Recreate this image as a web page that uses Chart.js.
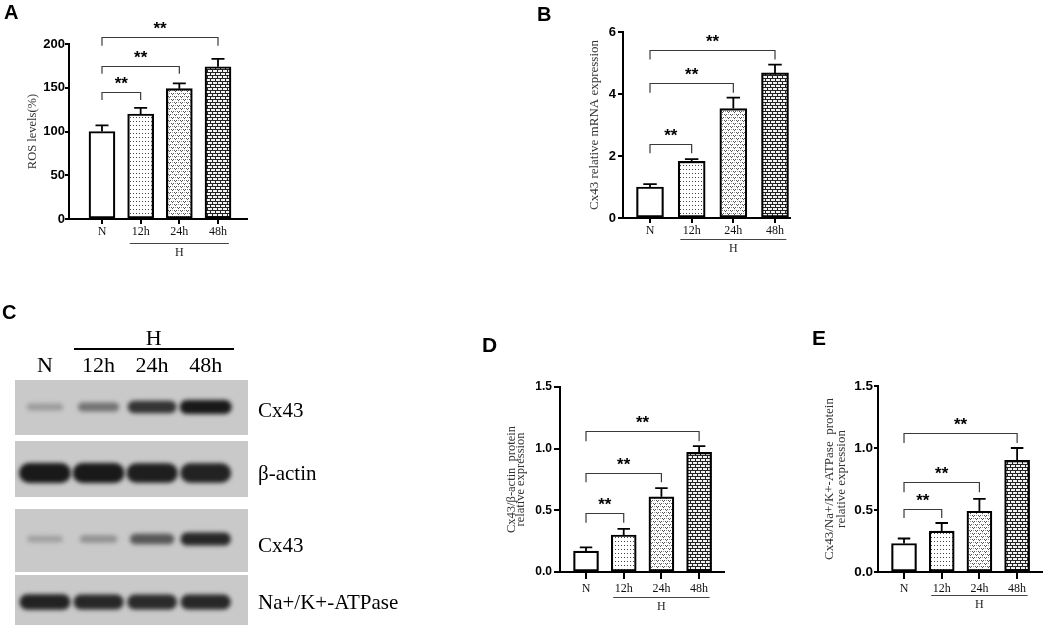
<!DOCTYPE html>
<html>
<head>
<meta charset="utf-8">
<title>ROS and Cx43 expression under hypoxia</title>
<script src="https://cdn.jsdelivr.net/npm/chart.js@4.4.1/dist/chart.umd.min.js"></script>
<style>
  body { margin: 0; background: #fff; }
  #fig { position: relative; width: 1045px; height: 628px; overflow: hidden; font-family: "Liberation Serif", "Times New Roman", serif; color: #000; }
  #fig canvas { position: absolute; }
  .tag { position: absolute; font: bold 20px "Liberation Sans", Arial, sans-serif; line-height: 1; }
  .lane { position: absolute; font-size: 22px; line-height: 1; transform: translate(-50%, -50%); white-space: nowrap; }
  .row-name { position: absolute; left: 258px; font-size: 21px; line-height: 1; transform: translateY(-50%); white-space: nowrap; }
  #hLine { position: absolute; height: 2px; background: #000; }
</style>
</head>
<body>
<div id="fig">
  <canvas id="chartA" width="260" height="268" style="left:0; top:0"></canvas>
  <canvas id="chartB" width="275" height="268" style="left:520px; top:0"></canvas>
  <canvas id="blot" width="260" height="253" style="left:0; top:375px"></canvas>
  <canvas id="chartD" width="260" height="300" style="left:470px; top:320px"></canvas>
  <canvas id="chartE" width="250" height="300" style="left:795px; top:320px"></canvas>

  <div class="tag" style="left:4px; top:2px">A</div>
  <div class="tag" style="left:537px; top:4px">B</div>
  <div class="tag" style="left:2px; top:302px">C</div>
  <div class="tag" style="left:482px; top:334px; font-size:21px">D</div>
  <div class="tag" style="left:812px; top:327px; font-size:21px">E</div>

  <div id="laneHeader"></div>
  <div class="row-name" style="top:410px">Cx43</div>
  <div class="row-name" style="top:473px">β-actin</div>
  <div class="row-name" style="top:545px">Cx43</div>
  <div class="row-name" style="top:602px">Na+/K+-ATPase</div>
</div>

<script>
// Groups (x categories)
const groups = ["N", "12h", "24h", "48h"];

// A: ROS levels (%)
const rosMean = [100, 120, 149, 174];
const rosSd = [7, 7, 6, 9];
const rosTicks = [0, 50, 100, 150, 200];

// B: Cx43 relative mRNA expression
const mrnaMean = [1.0, 1.83, 3.53, 4.68];
const mrnaSd = [0.09, 0.07, 0.35, 0.27];
const mrnaTicks = [0, 2, 4, 6];

// D: Cx43/β-actin protein
const actinRatioMean = [0.17, 0.3, 0.61, 0.97];
const actinRatioSd = [0.03, 0.05, 0.07, 0.05];

// E: Cx43/Na+/K+-ATPase protein
const atpaseRatioMean = [0.23, 0.33, 0.49, 0.9];
const atpaseRatioSd = [0.04, 0.065, 0.1, 0.1];

const proteinTicks = [0, 0.5, 1.0, 1.5];

// C: western blot band intensity (0 = none, 1 = saturated)
const cx43BandTop = [0.28, 0.5, 0.85, 1.0];
const actinBand = [1.0, 1.0, 0.97, 0.95];
const cx43BandLow = [0.25, 0.33, 0.65, 0.92];
const atpaseBand = [0.95, 0.92, 0.9, 0.92];

const SANS = "'Liberation Sans', Arial, sans-serif";
const SERIF = "'Liberation Serif', 'Times New Roman', serif";

Chart.defaults.font.family = SERIF;
Chart.defaults.color = "#000";

// Bar fills
function makePattern(kind) {
  const c = document.createElement("canvas");
  const g = c.getContext("2d");
  if (kind === "dots") {
    c.width = 3; c.height = 4;
    g.fillStyle = "#fff"; g.fillRect(0, 0, 3, 4);
    g.fillStyle = "#444"; g.fillRect(1, 1, 1, 1);
  } else if (kind === "waves") {
    // small "v" marks in staggered rows
    c.width = 6; c.height = 6;
    g.fillStyle = "#fff"; g.fillRect(0, 0, 6, 6);
    g.fillStyle = "#555";
    g.fillRect(0, 0, 1, 1); g.fillRect(2, 0, 1, 1); g.fillRect(1, 1, 1, 1);
    g.fillRect(3, 3, 1, 1); g.fillRect(5, 3, 1, 1); g.fillRect(4, 4, 1, 1);
    g.fillStyle = "#999";
    g.fillRect(4, 0, 1, 1); g.fillRect(1, 3, 1, 1);
  } else {
    c.width = 10; c.height = 6;
    g.fillStyle = "#f2f2f2"; g.fillRect(0, 0, 10, 6);
    g.fillStyle = "#222";
    g.fillRect(0, 0, 10, 1); g.fillRect(0, 3, 10, 1);
    g.fillRect(0, 1, 1, 2); g.fillRect(5, 1, 1, 2);
    g.fillRect(2, 4, 1, 2); g.fillRect(7, 4, 1, 2);
  }
  return g.createPattern(c, "repeat");
}
const barFills = ["#fff", makePattern("dots"), makePattern("waves"), makePattern("bricks")];

// Error bars, significance brackets and the "H" underline
const sigMarks = {
  id: "sigMarks",
  afterDatasetsDraw(chart, args, opts) {
    const { ctx, chartArea } = chart;
    const xs = chart.scales.x;
    const ys = chart.scales.y;
    const bars = chart.getDatasetMeta(0).data;
    ctx.save();

    ctx.strokeStyle = "#000";
    ctx.lineWidth = 1.8;
    bars.forEach((bar, i) => {
      const top = ys.getPixelForValue(opts.mean[i] + opts.sd[i]);
      const cap = bar.width / 4;
      ctx.beginPath();
      ctx.moveTo(bar.x, bar.y);
      ctx.lineTo(bar.x, top);
      ctx.moveTo(bar.x - cap, top);
      ctx.lineTo(bar.x + cap, top);
      ctx.stroke();
    });

    ctx.strokeStyle = "#3a3a3a";
    ctx.lineWidth = 1.2;
    ctx.fillStyle = "#000";
    ctx.font = "bold 17px " + SANS;
    ctx.textAlign = "center";
    ctx.textBaseline = "middle";
    opts.brackets.forEach(([to, top, foot]) => {
      const x0 = xs.getPixelForValue(0);
      const x1 = xs.getPixelForValue(to);
      const yt = Math.round(ys.getPixelForValue(top)) + 0.5;
      const yf = ys.getPixelForValue(foot);
      ctx.beginPath();
      ctx.moveTo(x0, yf);
      ctx.lineTo(x0, yt);
      ctx.lineTo(x1, yt);
      ctx.lineTo(x1, yf);
      ctx.stroke();
      ctx.fillText("**", (x0 + x1) / 2, yt - 8);
    });

    const half = bars[0].width * 0.42;
    const hx0 = xs.getPixelForValue(1) - half;
    const hx1 = xs.getPixelForValue(3) + half;
    const hy = Math.round(chartArea.bottom + opts.underline) + 0.5;
    ctx.strokeStyle = "#444";
    ctx.lineWidth = 1;
    ctx.beginPath();
    ctx.moveTo(hx0, hy);
    ctx.lineTo(hx1, hy);
    ctx.stroke();
    ctx.font = "12px " + SERIF;
    ctx.fillStyle = "#222";
    ctx.fillText("H", (hx0 + hx1) / 2, hy + 9);
    ctx.restore();
  },
};

function barChart(id, o) {
  return new Chart(document.getElementById(id), {
    type: "bar",
    data: {
      datasets: [
        {
          data: o.mean.map((v, i) => ({ x: i, y: v })),
          backgroundColor: barFills,
          borderColor: "#000",
          borderWidth: 2.2,
          borderSkipped: false,
          barThickness: o.barWidth,
        },
      ],
    },
    options: {
      responsive: false,
      animation: false,
      layout: { padding: o.padding },
      plugins: {
        legend: { display: false },
        tooltip: { enabled: false },
        sigMarks: { mean: o.mean, sd: o.sd, brackets: o.brackets, underline: o.underline },
      },
      scales: {
        x: {
          type: "linear",
          min: o.xMin,
          max: o.xMax,
          offset: false,
          afterBuildTicks: (s) => {
            s.ticks = groups.map((g, i) => ({ value: i }));
          },
          afterFit: (s) => {
            s.height = 25;
          },
          grid: { drawOnChartArea: false, offset: false, tickLength: o.xTick, color: "#000", lineWidth: 2 },
          border: { color: "#000", width: 2 },
          ticks: {
            autoSkip: false,
            maxRotation: 0,
            padding: o.xPad,
            color: "#111",
            font: { family: SERIF, size: 12 },
            callback: (v) => groups[v],
          },
        },
        y: {
          type: "linear",
          min: o.yTicks[0],
          max: o.yTicks[o.yTicks.length - 1],
          afterBuildTicks: (s) => {
            s.ticks = o.yTicks.map((v) => ({ value: v }));
          },
          afterFit: (s) => {
            s.width = o.yWidth;
          },
          grid: { drawOnChartArea: false, tickLength: o.yTick, color: "#000", lineWidth: 2 },
          border: { color: "#000", width: 2 },
          ticks: {
            padding: o.yPad,
            color: "#000",
            font: { family: SANS, size: o.tickSize, weight: "bold" },
            callback: o.yFormat,
          },
          title: {
            display: true,
            text: o.title,
            color: "#333",
            font: o.titleFont,
            padding: { top: o.titlePad, bottom: 0 },
          },
        },
      },
    },
    plugins: [sigMarks],
  });
}

// Western blot panel (drawn on lane scale)
const blotRows = [
  { from: 0, to: 55, mid: 27, thick: 14, band: cx43BandTop },
  { from: 61, to: 117, mid: 93, thick: 20, band: actinBand },
  { from: 129, to: 192, mid: 159, thick: 14, band: cx43BandLow },
  { from: 195, to: 245, mid: 222, thick: 16, band: atpaseBand },
];

const blotDraw = {
  id: "blotDraw",
  beforeDraw(chart) {
    const { ctx, chartArea: a } = chart;
    const xs = chart.scales.x;
    const ys = chart.scales.y;
    blotRows.forEach((row) => {
      const top = ys.getPixelForValue(row.from);
      const bottom = ys.getPixelForValue(row.to);
      ctx.save();
      ctx.fillStyle = "#c9c9c9";
      ctx.fillRect(a.left, top, a.right - a.left, bottom - top);
      ctx.beginPath();
      ctx.rect(a.left, top, a.right - a.left, bottom - top);
      ctx.clip();
      ctx.filter = "blur(2px)";
      row.band.forEach((v, i) => {
        const cx = xs.getPixelForValue(i);
        const cy = ys.getPixelForValue(row.mid);
        const w = 30 + 22 * v;
        const h = row.thick * (0.3 + 0.7 * v);
        const g = Math.round(205 - 180 * v);
        ctx.fillStyle = `rgb(${g},${g},${g})`;
        ctx.beginPath();
        ctx.roundRect(cx - w / 2, cy - h / 2, w, h, h / 2);
        ctx.fill();
      });
      ctx.restore();
    });
  },
};

function blotChart() {
  const chart = new Chart(document.getElementById("blot"), {
    type: "scatter",
    data: { datasets: [] },
    options: {
      responsive: false,
      animation: false,
      layout: { padding: { left: 15, right: 12, top: 5, bottom: 3 } },
      plugins: { legend: { display: false }, tooltip: { enabled: false } },
      scales: {
        x: { type: "linear", min: -0.56, max: 3.79, display: false },
        y: { type: "linear", min: 0, max: 245, reverse: true, display: false },
      },
    },
    plugins: [blotDraw],
  });

  // Lane header: N, 12h, 24h, 48h with the H bar over the hypoxia lanes
  const xs = chart.scales.x;
  const header = document.getElementById("laneHeader");
  groups.forEach((g, i) => {
    const d = document.createElement("div");
    d.className = "lane";
    d.textContent = g;
    d.style.left = xs.getPixelForValue(i) + "px";
    d.style.top = "365px";
    header.appendChild(d);
  });
  const x0 = xs.getPixelForValue(1) - 25;
  const x1 = xs.getPixelForValue(3) + 28;
  const line = document.createElement("div");
  line.id = "hLine";
  line.style.left = x0 + "px";
  line.style.width = x1 - x0 + "px";
  line.style.top = "348px";
  header.appendChild(line);
  const h = document.createElement("div");
  h.className = "lane";
  h.textContent = "H";
  h.style.left = (x0 + x1) / 2 + "px";
  h.style.top = "338px";
  header.appendChild(h);
}

document.addEventListener("DOMContentLoaded", () => {
  barChart("chartA", {
    mean: rosMean,
    sd: rosSd,
    yTicks: rosTicks,
    yFormat: (v) => v,
    brackets: [[1, 145, 136], [2, 175, 166], [3, 208, 198]],
    padding: { left: 0, top: 44, right: 13, bottom: 24 },
    yWidth: 69,
    xMin: -0.853,
    xMax: 3.75,
    barWidth: 26,
    xTick: 5,
    xPad: 1,
    yTick: 4,
    yPad: 0,
    tickSize: 13,
    underline: 24,
    title: "ROS levels(%)",
    titleFont: { family: SERIF, size: 12.5 },
    titlePad: 25.5,
  });

  barChart("chartB", {
    mean: mrnaMean,
    sd: mrnaSd,
    yTicks: mrnaTicks,
    yFormat: (v) => v,
    brackets: [[1, 2.39, 2.09], [2, 4.36, 4.04], [3, 5.43, 5.11]],
    padding: { left: 0, top: 32, right: 5, bottom: 25 },
    yWidth: 103,
    xMin: -0.648,
    xMax: 3.36,
    barWidth: 27,
    xTick: 5,
    xPad: 1,
    yTick: 5,
    yPad: 2,
    tickSize: 13,
    underline: 21,
    title: "Cx43 relative mRNA expression",
    titleFont: { family: SERIF, size: 13 },
    titlePad: 67.2,
  });

  barChart("chartD", {
    mean: actinRatioMean,
    sd: actinRatioSd,
    yTicks: proteinTicks,
    yFormat: (v) => v.toFixed(1),
    brackets: [[1, 0.477, 0.4], [2, 0.8, 0.727], [3, 1.142, 1.06]],
    padding: { left: 0, top: 67, right: 6, bottom: 23 },
    yWidth: 90,
    xMin: -0.69,
    xMax: 3.66,
    barWidth: 25,
    xTick: 7,
    xPad: 3,
    yTick: 6,
    yPad: 2,
    tickSize: 12,
    underline: 25,
    title: ["Cx43/β-actin  protein", "relative expression"],
    titleFont: { family: SERIF, size: 12.5, lineHeight: "9px" },
    titlePad: 37.5,
  });

  barChart("chartE", {
    mean: atpaseRatioMean,
    sd: atpaseRatioSd,
    yTicks: proteinTicks,
    yFormat: (v) => v.toFixed(1),
    brackets: [[1, 0.51, 0.435], [2, 0.725, 0.644], [3, 1.12, 1.04]],
    padding: { left: 0, top: 66, right: 3, bottom: 23 },
    yWidth: 83,
    xMin: -0.69,
    xMax: 3.66,
    barWidth: 25,
    xTick: 7,
    xPad: 3,
    yTick: 4,
    yPad: 1,
    tickSize: 13.5,
    underline: 23,
    title: ["Cx43/Na+/K+-ATPase  protein", "relative expression"],
    titleFont: { family: SERIF, size: 13, lineHeight: "12px" },
    titlePad: 29,
  });

  blotChart();
});
</script>
</body>
</html>
